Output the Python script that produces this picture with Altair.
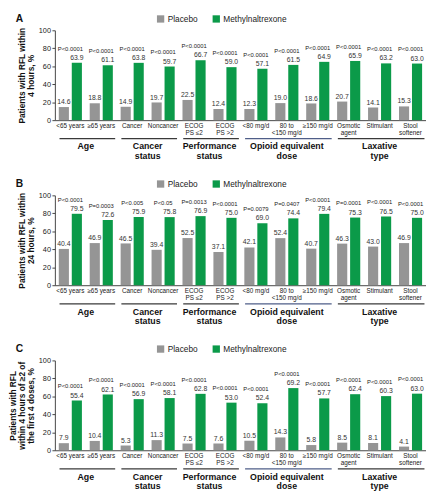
import altair as alt
import pandas as pd

# ---------------- data ----------------
categories = ["<65 years", "≥65 years", "Cancer", "Noncancer", "ECOG|PS ≤2", "ECOG|PS >2",
              "<80 mg/d", "80 to|<150 mg/d", "≥150 mg/d", "Osmotic|agent", "Stimulant", "Stool|softener"]
series_names = ["Placebo", "Methylnaltrexone"]
series_colors = ["#959595", "#0b9a49"]

placebo_A = [14.6, 18.8, 14.9, 19.7, 22.5, 12.4, 12.3, 19.0, 18.6, 20.7, 14.1, 15.3]
mntx_A = [63.9, 61.1, 63.8, 59.7, 66.7, 59.0, 57.1, 61.5, 64.9, 65.9, 63.2, 63.0]
pval_A = ["P<0.0001"] * 12

placebo_B = [40.4, 46.9, 46.5, 39.4, 52.5, 37.1, 42.1, 52.4, 40.7, 46.3, 43.0, 46.9]
mntx_B = [79.5, 72.6, 75.9, 75.8, 76.9, 75.0, 69.0, 74.4, 79.4, 75.3, 76.5, 75.0]
pval_B = ["P<0.0001", "P=0.0003", "P<0.005", "P<0.05", "P=0.0013", "P<0.0001",
          "P=0.0079", "P=0.0407", "P<0.0001", "P=0.0001", "P<0.0001", "P<0.0001"]

placebo_C = [7.9, 10.4, 5.3, 11.3, 7.5, 7.6, 10.5, 14.3, 5.8, 8.5, 8.1, 4.1]
mntx_C = [55.4, 62.1, 56.9, 58.1, 62.8, 53.0, 52.4, 69.2, 57.7, 62.4, 60.3, 63.0]
pval_C = ["P<0.0001"] * 12

title_A = ["Patients with RFL within", "4 hours, %"]
title_B = ["Patients with RFL within", "24 hours, %"]
title_C = ["Patients with RFL", "within 4 hours of ≥2 of", "the first 4 doses, %"]

group_names = ["Age", "Cancer\nstatus", "Performance\nstatus", "Opioid equivalent\ndose", "Laxative\ntype"]
group_first = [0, 2, 4, 6, 9]
group_last = [1, 3, 5, 8, 11]
group_line_colors = ["#3a3a3a", "#3a3a3a", "#3a3a3a", "#4f5e88", "#3a3a3a"]

W = 380
H = 92
FONT = "Liberation Sans"
AXIS_COLOR = "#444444"


def panel(letter, placebo, mntx, pvals, ytitle):
    rows = []
    for i, c in enumerate(categories):
        rows.append({"cat": c, "series": "Placebo", "value": placebo[i]})
        rows.append({"cat": c, "series": "Methylnaltrexone", "value": mntx[i]})
    bars_df = pd.DataFrame(rows)
    p_df = pd.DataFrame({"cat": categories, "top": mntx, "p": pvals})
    g_df = pd.DataFrame({
        "start": [categories[i] for i in group_first],
        "end": [categories[i] for i in group_last],
        "label": group_names,
        "lc": group_line_colors,
        "n": [l - f + 1 for f, l in zip(group_first, group_last)],
        "mid": [categories[f + 1] for f in group_first],
    })
    g2 = g_df[g_df["n"] == 2]
    g3 = g_df[g_df["n"] == 3]

    xscale = alt.Scale(domain=categories, paddingInner=0, paddingOuter=0)
    yscale = alt.Scale(domain=[0, 100], nice=False)
    oscale = alt.Scale(domain=series_names, paddingInner=0.22, paddingOuter=0.3)

    x_axis = alt.Axis(title=None, labelAngle=0, labelFontSize=6.5, ticks=False,
                      domainColor=AXIS_COLOR, labelColor="#222222",
                      labelExpr="split(datum.label, '|')", labelPadding=2.5,
                      labelLineHeight=7.5, labelOverlap=False, labelLimit=60)
    y_axis = alt.Axis(values=[0, 20, 40, 60, 80, 100], grid=False, domainColor=AXIS_COLOR,
                      tickColor=AXIS_COLOR, tickSize=3, labelFontSize=7.5, labelPadding=1.5,
                      labelColor="#222222",
                      title=ytitle, titleFontSize=8.5, titleFontWeight="bold",
                      titleLineHeight=9, titlePadding=3, titleColor="#111111")

    def X(field, **kw):
        return alt.X(field, type="nominal", sort=categories, scale=xscale, axis=x_axis, **kw)

    def Y(field):
        return alt.Y(field, type="quantitative", scale=yscale, axis=y_axis)

    bars = alt.Chart(bars_df).mark_bar().encode(
        x=X("cat"),
        xOffset=alt.XOffset("series:N", sort=series_names, scale=oscale),
        y=Y("value"),
        color=alt.Color("series:N", sort=series_names,
                        scale=alt.Scale(domain=series_names, range=series_colors),
                        legend=alt.Legend(orient="none", legendX=104, legendY=-16, direction="horizontal",
                                          title=None, symbolType="square", symbolSize=56,
                                          symbolStrokeWidth=0, labelFontSize=8.5, labelOffset=3,
                                          columnPadding=14, labelColor="#222222")),
    )

    values = alt.Chart(bars_df).mark_text(baseline="bottom", dy=-2, fontSize=7, color="#333333").encode(
        x=X("cat"),
        xOffset=alt.XOffset("series:N", sort=series_names, scale=oscale),
        y=Y("value"),
        text=alt.Text("value:Q", format=".1f"),
    )

    ptext = alt.Chart(p_df).mark_text(baseline="bottom", dy=-11.5, fontSize=6, color="#222222").encode(
        x=X("cat"),
        y=Y("top"),
        text="p:N",
    )

    rules = alt.Chart(g_df).mark_rule(strokeWidth=1.3).encode(
        x=X("start", bandPosition=0.15),
        x2=alt.X2("end", bandPosition=0.95),
        y=alt.value(H + 19),
        stroke=alt.Stroke("lc:N", scale=None),
    )

    glab2 = alt.Chart(g2).mark_text(baseline="top", lineBreak="\n", fontWeight="bold", fontSize=9,
                                    lineHeight=9.5, color="#111111").encode(
        x=X("mid", bandPosition=0),
        y=alt.value(H + 23),
        text="label:N",
    )
    glab3 = alt.Chart(g3).mark_text(baseline="top", lineBreak="\n", fontWeight="bold", fontSize=9,
                                    lineHeight=9.5, color="#111111").encode(
        x=X("mid", bandPosition=0.5),
        y=alt.value(H + 23),
        text="label:N",
    )

    letter_mark = alt.Chart(pd.DataFrame({"t": [letter]})).mark_text(
        align="left", baseline="middle", fontWeight="bold", fontSize=10.5, color="#111111").encode(
        x=alt.value(-40), y=alt.value(-12), text="t:N")

    return alt.layer(bars, values, ptext, rules, glab2, glab3, letter_mark).properties(width=W, height=H)


chart = alt.vconcat(
    panel("A", placebo_A, mntx_A, pval_A, title_A),
    panel("B", placebo_B, mntx_B, pval_B, title_B),
    panel("C", placebo_C, mntx_C, pval_C, title_C),
    spacing=18,
).resolve_legend(color="independent").properties(
    padding=0, background="white"
).configure(font=FONT).configure_view(stroke=None)

chart.save("out.html", embed_options={"renderer": "svg", "actions": False})
